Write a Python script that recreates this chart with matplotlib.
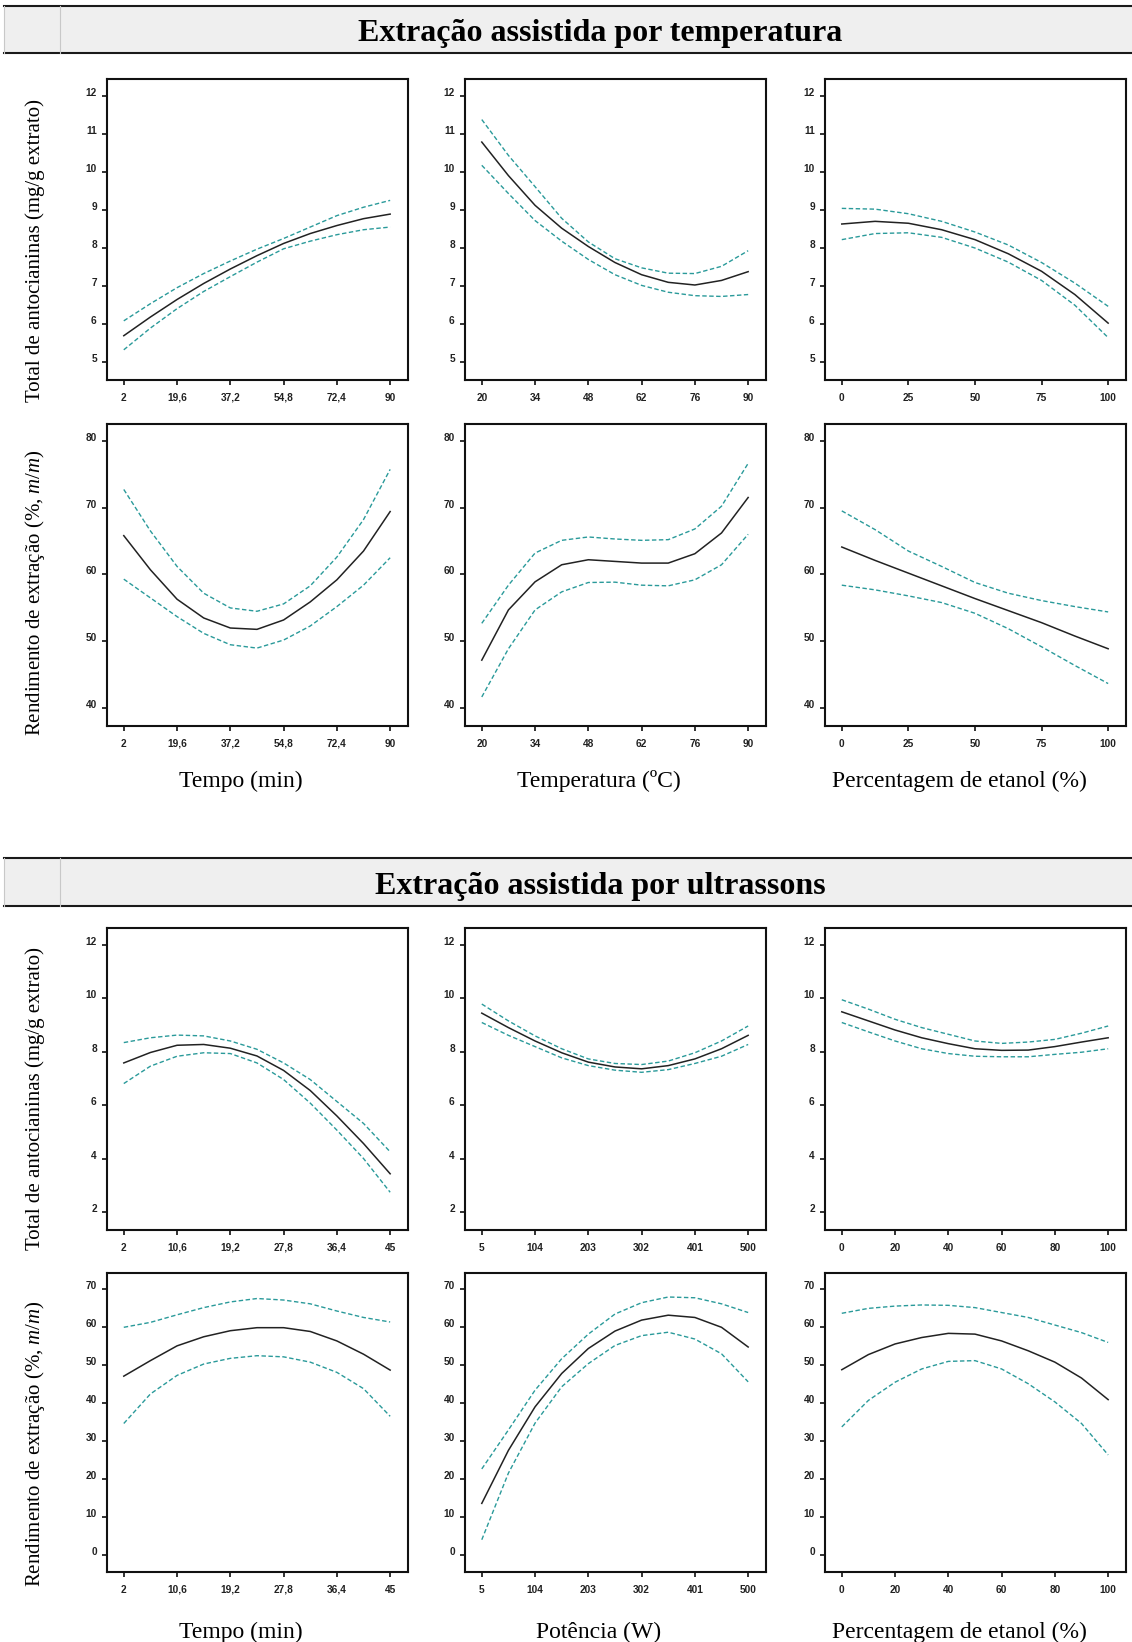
"""Efeitos principais: total de antocianinas e rendimento de extração (TAE / UAE)."""
import matplotlib
matplotlib.use("Agg")
import matplotlib.pyplot as plt
from matplotlib.patches import Rectangle
from matplotlib.lines import Line2D

plt.rcParams["mathtext.fontset"] = "custom"
plt.rcParams["mathtext.rm"] = "Liberation Serif"
plt.rcParams["mathtext.it"] = "Liberation Serif:italic"

# ---------------- data ----------------
# extração assistida por temperatura
tae_tempo = [2, 10.8, 19.6, 28.4, 37.2, 46, 54.8, 63.6, 72.4, 81.2, 90]
tae_temp = [20, 27, 34, 41, 48, 55, 62, 69, 76, 83, 90]
tae_etanol = [0, 12.5, 25, 37.5, 50, 62.5, 75, 87.5, 100]

tac_tempo_mean = [5.70, 6.19, 6.65, 7.07, 7.45, 7.80, 8.12, 8.38, 8.59, 8.77, 8.89]
tac_tempo_upper = [6.09, 6.54, 6.96, 7.33, 7.66, 7.97, 8.25, 8.55, 8.85, 9.07, 9.25]
tac_tempo_lower = [5.33, 5.90, 6.41, 6.86, 7.25, 7.63, 7.98, 8.18, 8.35, 8.48, 8.55]

tac_temp_mean = [10.78, 9.90, 9.12, 8.52, 8.04, 7.62, 7.30, 7.10, 7.03, 7.15, 7.38]
tac_temp_upper = [11.37, 10.43, 9.61, 8.78, 8.16, 7.72, 7.48, 7.34, 7.33, 7.52, 7.93]
tac_temp_lower = [10.17, 9.43, 8.72, 8.18, 7.70, 7.30, 7.02, 6.84, 6.75, 6.73, 6.78]

tac_etanol_mean = [8.63, 8.70, 8.65, 8.48, 8.22, 7.85, 7.39, 6.78, 6.03]
tac_etanol_upper = [9.04, 9.02, 8.90, 8.70, 8.42, 8.08, 7.62, 7.08, 6.47]
tac_etanol_lower = [8.22, 8.38, 8.40, 8.28, 8.00, 7.63, 7.15, 6.50, 5.65]

rend_tempo_mean = [65.8, 60.7, 56.3, 53.5, 52.0, 51.8, 53.2, 55.9, 59.2, 63.5, 69.4]
rend_tempo_upper = [72.7, 66.5, 61.2, 57.2, 55.0, 54.5, 55.6, 58.3, 62.6, 68.2, 75.7]
rend_tempo_lower = [59.3, 56.5, 53.7, 51.2, 49.5, 49.0, 50.2, 52.3, 55.2, 58.4, 62.5]

rend_temp_mean = [47.2, 54.7, 58.9, 61.45, 62.2, 61.95, 61.7, 61.7, 63.1, 66.2, 71.5]
rend_temp_upper = [52.7, 58.4, 63.2, 65.1, 65.6, 65.3, 65.1, 65.2, 66.8, 70.2, 76.6]
rend_temp_lower = [41.7, 48.9, 54.7, 57.4, 58.8, 58.85, 58.4, 58.3, 59.2, 61.45, 66.0]

rend_etanol_mean = [64.1, 62.1, 60.2, 58.3, 56.4, 54.6, 52.8, 50.8, 48.9]
rend_etanol_upper = [69.5, 66.7, 63.5, 61.2, 58.8, 57.2, 56.1, 55.2, 54.4]
rend_etanol_lower = [58.4, 57.7, 56.8, 55.8, 54.2, 51.9, 49.2, 46.4, 43.7]

# extração assistida por ultrassons
uae_tempo = [2, 6.3, 10.6, 14.9, 19.2, 23.5, 27.8, 32.1, 36.4, 40.7, 45]
uae_pot = [5, 54.5, 104, 153.5, 203, 252.5, 302, 351.5, 401, 450.5, 500]
uae_etanol = [0, 10, 20, 30, 40, 50, 60, 70, 80, 90, 100]

u_tac_tempo_mean = [7.58, 7.97, 8.24, 8.27, 8.13, 7.84, 7.30, 6.55, 5.60, 4.57, 3.44]
u_tac_tempo_upper = [8.34, 8.52, 8.62, 8.59, 8.40, 8.09, 7.58, 6.96, 6.14, 5.32, 4.26]
u_tac_tempo_lower = [6.81, 7.46, 7.83, 7.96, 7.93, 7.58, 6.96, 6.08, 5.07, 4.01, 2.75]

u_tac_pot_mean = [9.44, 8.90, 8.40, 7.96, 7.61, 7.43, 7.36, 7.48, 7.73, 8.11, 8.61]
u_tac_pot_upper = [9.78, 9.15, 8.59, 8.11, 7.73, 7.56, 7.52, 7.65, 7.96, 8.40, 8.96]
u_tac_pot_lower = [9.09, 8.61, 8.19, 7.77, 7.48, 7.31, 7.23, 7.33, 7.56, 7.83, 8.27]

u_tac_etanol_mean = [9.49, 9.15, 8.81, 8.52, 8.30, 8.11, 8.05, 8.06, 8.19, 8.36, 8.52]
u_tac_etanol_upper = [9.94, 9.59, 9.21, 8.90, 8.65, 8.40, 8.31, 8.36, 8.46, 8.69, 8.96]
u_tac_etanol_lower = [9.09, 8.74, 8.40, 8.11, 7.93, 7.83, 7.81, 7.81, 7.90, 7.98, 8.11]

u_rend_tempo_mean = [47.1, 51.2, 55.1, 57.5, 59.1, 59.9, 59.9, 58.9, 56.4, 52.9, 48.7]
u_rend_tempo_upper = [60.0, 61.3, 63.3, 65.2, 66.7, 67.6, 67.2, 66.2, 64.3, 62.6, 61.4]
u_rend_tempo_lower = [34.6, 42.4, 47.3, 50.3, 51.8, 52.5, 52.2, 50.8, 48.1, 43.8, 36.5]

u_rend_pot_mean = [13.5, 27.5, 39.0, 47.8, 54.4, 59.0, 61.9, 63.2, 62.6, 60.0, 54.8]
u_rend_pot_upper = [22.6, 32.9, 43.4, 51.7, 58.2, 63.5, 66.5, 68.0, 67.8, 66.2, 63.9]
u_rend_pot_lower = [3.9, 21.5, 34.7, 44.3, 50.4, 55.2, 57.8, 58.7, 56.9, 53.0, 45.6]

u_rend_etanol_mean = [48.8, 52.8, 55.6, 57.3, 58.4, 58.2, 56.4, 53.8, 50.8, 46.6, 40.9]
u_rend_etanol_upper = [63.7, 65.0, 65.6, 65.9, 65.8, 65.2, 63.9, 62.6, 60.6, 58.6, 56.0]
u_rend_etanol_lower = [33.7, 40.7, 45.5, 49.0, 51.0, 51.2, 49.0, 45.1, 40.3, 34.6, 26.3]

# ticks
xt_tae_tempo = [2, 19.6, 37.2, 54.8, 72.4, 90]
xl_tae_tempo = ["2", "19,6", "37,2", "54,8", "72,4", "90"]
xt_tae_temp = [20, 34, 48, 62, 76, 90]
xt_tae_etanol = [0, 25, 50, 75, 100]
xt_uae_tempo = [2, 10.6, 19.2, 27.8, 36.4, 45]
xl_uae_tempo = ["2", "10,6", "19,2", "27,8", "36,4", "45"]
xt_uae_pot = [5, 104, 203, 302, 401, 500]
xt_uae_etanol = [0, 20, 40, 60, 80, 100]

yt_tac_tae = [5, 6, 7, 8, 9, 10, 11, 12]
yt_rend_tae = [40, 50, 60, 70, 80]
yt_tac_uae = [2, 4, 6, 8, 10, 12]
yt_rend_uae = [0, 10, 20, 30, 40, 50, 60, 70]

title_tae = "Extração assistida por temperatura"
title_uae = "Extração assistida por ultrassons"
ylab_tac = "Total de antocianinas (mg/g extrato)"
ylab_rend = r"Rendimento de extração (%, $\mathit{m/m}$)"
xlab_tae = ["Tempo (min)", "Temperatura (ºC)", "Percentagem de etanol (%)"]
xlab_uae = ["Tempo (min)", "Potência (W)", "Percentagem de etanol (%)"]

# ---------------- layout ----------------
W, H = 1132, 1642
TEAL = "#2a9a9a"
DARK = "#222222"
SERIF = "Liberation Serif"

fig = plt.figure(figsize=(W / 100, H / 100), dpi=100)
fig.patch.set_facecolor("white")

cols = [(107, 408), (465, 766), (825, 1126)]
rows = [(79, 380), (424, 726), (928, 1230), (1273, 1572)]


def px_box(l, t, r, b):
    return [l / W, 1 - b / H, (r - l) / W, (b - t) / H]


def header(top, bottom, text):
    tf = fig.transFigure
    fig.add_artist(Rectangle((4 / W, 1 - bottom / H), 1 - 4 / W, (bottom - top) / H,
                             transform=tf, facecolor="#efefef", edgecolor="none", zorder=0))
    for y in (top, bottom):
        fig.add_artist(Line2D([4 / W, 1], [1 - y / H] * 2, transform=tf, color="#1a1a1a", lw=1.5))
    for x in (4, 60):
        fig.add_artist(Line2D([x / W] * 2, [1 - top / H, 1 - bottom / H], transform=tf,
                              color="#c8c8c8", lw=0.8))
    fig.text(600 / W, 1 - ((top + bottom) / 2 + 4) / H, text, ha="center", va="center",
             fontsize=23, fontweight="bold", family=SERIF)


def panel(ax, x, mean, upper, lower, xticks, xlabels, yticks):
    ax.plot(x, upper, color=TEAL, lw=1.0, dashes=(3.2, 1.8))
    ax.plot(x, lower, color=TEAL, lw=1.0, dashes=(3.2, 1.8))
    ax.plot(x, mean, color=DARK, lw=1.1)
    xs = xticks[-1] - xticks[0]
    ys = yticks[-1] - yticks[0]
    ax.set_xlim(xticks[0] - 0.063 * xs, xticks[-1] + 0.067 * xs)
    ax.set_ylim(yticks[0] - 0.066 * ys, yticks[-1] + 0.062 * ys)
    ax.set_xticks(xticks)
    ax.set_xticklabels(xlabels if xlabels else [str(v) for v in xticks])
    ax.set_yticks(yticks)
    ax.set_yticklabels([str(v) for v in yticks])
    for s in ax.spines.values():
        s.set_linewidth(1.5)
        s.set_color("#111111")
    ax.tick_params(direction="out", length=3.8, width=1.3, color="#222222", pad=3.5,
                   labelsize=7.3)
    ax.tick_params(axis="x", pad=5.5)
    for lbl in ax.get_xticklabels() + ax.get_yticklabels():
        lbl.set_fontweight("bold")
        lbl.set_family("Liberation Sans")
        lbl.set_color("#222222")
    for lbl in ax.get_yticklabels():
        lbl.set_verticalalignment("baseline")


header(6, 53, title_tae)
header(858, 906, title_uae)

panels = [
    # row 0
    (0, 0, tae_tempo, tac_tempo_mean, tac_tempo_upper, tac_tempo_lower, xt_tae_tempo, xl_tae_tempo, yt_tac_tae),
    (0, 1, tae_temp, tac_temp_mean, tac_temp_upper, tac_temp_lower, xt_tae_temp, None, yt_tac_tae),
    (0, 2, tae_etanol, tac_etanol_mean, tac_etanol_upper, tac_etanol_lower, xt_tae_etanol, None, yt_tac_tae),
    # row 1
    (1, 0, tae_tempo, rend_tempo_mean, rend_tempo_upper, rend_tempo_lower, xt_tae_tempo, xl_tae_tempo, yt_rend_tae),
    (1, 1, tae_temp, rend_temp_mean, rend_temp_upper, rend_temp_lower, xt_tae_temp, None, yt_rend_tae),
    (1, 2, tae_etanol, rend_etanol_mean, rend_etanol_upper, rend_etanol_lower, xt_tae_etanol, None, yt_rend_tae),
    # row 2
    (2, 0, uae_tempo, u_tac_tempo_mean, u_tac_tempo_upper, u_tac_tempo_lower, xt_uae_tempo, xl_uae_tempo, yt_tac_uae),
    (2, 1, uae_pot, u_tac_pot_mean, u_tac_pot_upper, u_tac_pot_lower, xt_uae_pot, None, yt_tac_uae),
    (2, 2, uae_etanol, u_tac_etanol_mean, u_tac_etanol_upper, u_tac_etanol_lower, xt_uae_etanol, None, yt_tac_uae),
    # row 3
    (3, 0, uae_tempo, u_rend_tempo_mean, u_rend_tempo_upper, u_rend_tempo_lower, xt_uae_tempo, xl_uae_tempo, yt_rend_uae),
    (3, 1, uae_pot, u_rend_pot_mean, u_rend_pot_upper, u_rend_pot_lower, xt_uae_pot, None, yt_rend_uae),
    (3, 2, uae_etanol, u_rend_etanol_mean, u_rend_etanol_upper, u_rend_etanol_lower, xt_uae_etanol, None, yt_rend_uae),
]

for r, c, x, m, up, lo, xt, xl, yt in panels:
    (l, rr), (t, b) = cols[c], rows[r]
    ax = fig.add_axes(px_box(l, t, rr, b))
    panel(ax, x, m, up, lo, xt, xl, yt)

# y labels (rotated, serif)
for yc, txt in [(251, ylab_tac), (593, ylab_rend), (1099, ylab_tac), (1444, ylab_rend)]:
    fig.text(35 / W, 1 - yc / H, txt, rotation=90, ha="center", va="center",
             fontsize=15, family=SERIF)

# x labels
xcent = [241, 599, 959]
for xc, txt in zip(xcent, xlab_tae):
    fig.text(xc / W, 1 - 781 / H, txt, ha="center", va="center", fontsize=17, family=SERIF)
for xc, txt in zip(xcent, xlab_uae):
    fig.text(xc / W, 1 - 1632 / H, txt, ha="center", va="center", fontsize=17, family=SERIF)

fig.savefig("out.png", dpi=100)
plt.close(fig)
